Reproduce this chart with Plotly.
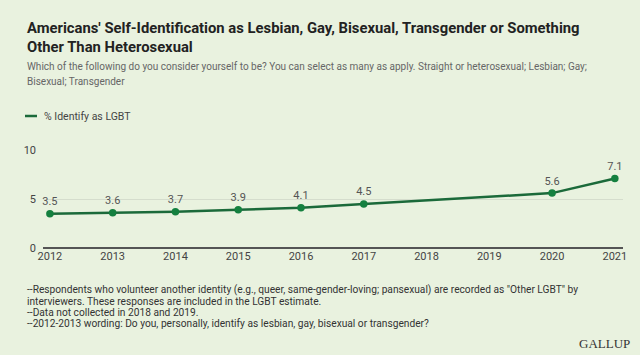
import plotly.graph_objects as go

years = [2012, 2013, 2014, 2015, 2016, 2017, 2018, 2019, 2020, 2021]
pct_lgbt = [3.5, 3.6, 3.7, 3.9, 4.1, 4.5, None, None, 5.6, 7.1]
y_ticks = [0, 5, 10]
series_name = "% Identify as LGBT"

BG = "#e9f2df"
GREEN_LINE = "#1b6a3a"
GREEN_MARK = "#14803f"
FONT = "Roboto, Inter, sans-serif"

labels = [f"{v:.1f}" if v is not None else "" for v in pct_lgbt]

fig = go.Figure()
fig.add_trace(go.Scatter(
    x=years, y=pct_lgbt, mode="lines+markers+text",
    name=series_name,
    connectgaps=True,
    line=dict(color=GREEN_LINE, width=2.5),
    marker=dict(color=GREEN_MARK, size=7.5),
    text=labels, textposition="top center",
    textfont=dict(size=11, color="#555555", family=FONT),
    cliponaxis=False,
    showlegend=False,
))

L, R, T, B = 43, 17, 150, 107
fig.update_layout(
    width=640, height=355,
    paper_bgcolor=BG, plot_bgcolor=BG,
    margin=dict(l=L, r=R, t=T, b=B, autoexpand=False),
    font=dict(family=FONT, color="#444444"),
    showlegend=False,
    xaxis=dict(range=[2011.89, 2021.13], tickmode="array", tickvals=years,
               ticktext=[str(y) for y in years], showgrid=False, zeroline=False,
               showline=False, ticks="", tickfont=dict(size=11, color="#444444"),
               automargin=False),
    yaxis=dict(range=[0, 10], tickvals=y_ticks, showgrid=True,
               gridcolor="#d5ddcd", gridwidth=1, zeroline=True,
               zerolinecolor="#555555", zerolinewidth=2, showline=False,
               ticks="", ticklabelstandoff=6, automargin=False,
               tickfont=dict(size=11, color="#444444")),
)

plot_w = 640 - L - R
plot_h = 355 - T - B


def px2paper(px, py):
    return (px - L) / plot_w, ((355 - py) - B) / plot_h


anns = [
    (25, 37, "<b>Americans' Self-Identification as Lesbian, Gay, Bisexual, Transgender or Something<br>Other Than Heterosexual</b>", 14.8, "#222222"),
    (25, 66, "Which of the following do you consider yourself to be? You can select as many as apply. Straight or heterosexual; Lesbian; Gay;", 10, "#666666"),
    (25, 82, "Bisexual; Transgender", 10, "#666666"),
    (42, 116, series_name, 10.5, "#444444"),
    (25, 290, "--Respondents who volunteer another identity (e.g., queer, same-gender-loving; pansexual) are recorded as \"Other LGBT\" by", 10.2, "#333333"),
    (25, 301, "interviewers. These responses are included in the LGBT estimate.", 10.2, "#333333"),
    (25, 312, "--Data not collected in 2018 and 2019.", 10.2, "#333333"),
    (25, 323, "--2012-2013 wording: Do you, personally, identify as lesbian, gay, bisexual or transgender?", 10.2, "#333333"),
]
for x, y, text, size, color in anns:
    ax, ay = px2paper(x, y)
    fig.add_annotation(x=ax, y=ay, xref="paper", yref="paper",
                       text=text, showarrow=False, xanchor="left", yanchor="middle",
                       align="left",
                       font=dict(size=size, color=color, family=FONT))

# legend line sample
x0, y0 = px2paper(25, 116)
x1, _ = px2paper(37, 116)
fig.add_shape(type="line", xref="paper", yref="paper", x0=x0, x1=x1, y0=y0, y1=y0,
              line=dict(color=GREEN_LINE, width=2.5))

gx, gy = px2paper(632, 343)
fig.add_annotation(x=gx, y=gy, xref="paper", yref="paper", text="GALLUP",
                   showarrow=False, xanchor="right", yanchor="middle",
                   font=dict(size=13, color="#333333", family="Liberation Serif, serif"))

fig.write_html(
    "out.html",
    config={"displayModeBar": False},
    post_script="document.body.style.margin='0';document.body.style.background='%s';"
                "document.body.style.overflow='hidden';" % BG,
)
